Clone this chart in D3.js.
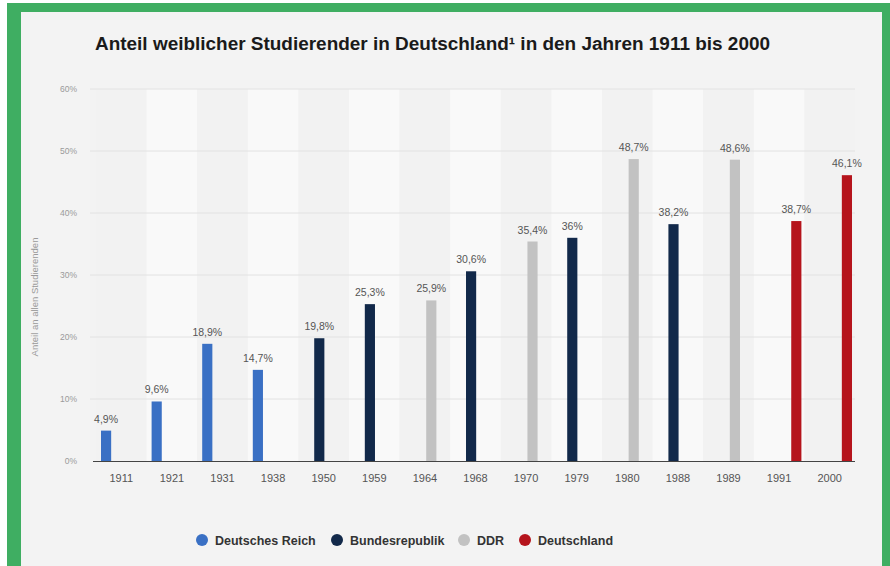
<!DOCTYPE html>
<html><head><meta charset="utf-8">
<script src="https://cdn.jsdelivr.net/npm/d3@7"></script>
<style>html,body{margin:0;padding:0;background:#fff;}svg{display:block;}</style>
</head><body>
<script>
const years = ["1911","1921","1931","1938","1950","1959","1964","1968","1970","1979","1980","1988","1989","1991","2000"];
const seriesNames = ["Deutsches Reich","Bundesrepublik","DDR","Deutschland"];
const seriesColors = ["#3a70c4","#12294a","#c2c2c2","#b5141c"];
const deutschesReich = [4.9,9.6,18.9,14.7,null,null,null,null,null,null,null,null,null,null,null];
const bundesrepublik = [null,null,null,null,19.8,25.3,null,30.6,null,36,null,38.2,null,null,null];
const ddr = [null,null,null,null,null,null,25.9,null,35.4,null,48.7,null,48.6,null,null];
const deutschland = [null,null,null,null,null,null,null,null,null,null,null,null,null,38.7,46.1];
const valueLabels = ["4,9%","9,6%","18,9%","14,7%","19,8%","25,3%","25,9%","30,6%","35,4%","36%","48,7%","38,2%","48,6%","38,7%","46,1%"];
const yTicks = [0,10,20,30,40,50,60];
const titleText = "Anteil weiblicher Studierender in Deutschland¹ in den Jahren 1911 bis 2000";
const yAxisTitle = "Anteil an allen Studierenden";

const W = 890, H = 566;
const svg = d3.select("body").append("svg").attr("width", W).attr("height", H);

// frame
svg.append("rect").attr("x",7).attr("y",3).attr("width",W-7).attr("height",H-3).attr("fill","#3fae62");
svg.append("rect").attr("x",21).attr("y",12).attr("width",861).attr("height",H-12).attr("fill","#f3f3f3");

const plotL = 96, plotR = 855, plotT = 89, plotB = 461;
const x = d3.scaleBand().domain(years).range([plotL, plotR]).padding(0);
const x1 = d3.scaleBand().domain(seriesNames).range([5, x.bandwidth()-3]).paddingInner(0.06);
const y = d3.scaleLinear().domain([0,60]).range([plotB, plotT]);

// stripes
svg.append("g").selectAll("rect").data(years).join("rect")
  .attr("x", d => x(d)).attr("y", plotT).attr("width", x.bandwidth()).attr("height", plotB - plotT)
  .attr("fill", (d,i) => i % 2 === 0 ? "#f2f2f2" : "#f9f9f9");

// gridlines
svg.append("g").selectAll("line").data(yTicks.filter(t => t > 0)).join("line")
  .attr("x1", 90).attr("x2", plotR).attr("y1", d => y(d)).attr("y2", d => y(d))
  .attr("stroke", "#e2e2e2").attr("stroke-width", 1);

// y axis labels
const yAxis = d3.axisLeft(y).tickValues(yTicks).tickFormat(d => d + "%").tickSize(0).tickPadding(0);
const ya = svg.append("g").attr("transform", `translate(77,0)`).call(yAxis);
ya.select(".domain").remove();
ya.selectAll("text").attr("fill","#9a9a9a").attr("font-family","Liberation Sans, Arial, sans-serif").attr("font-size","8.5px");

svg.append("text").attr("transform", `translate(38,297) rotate(-90)`)
  .attr("text-anchor","middle").attr("fill","#9a9a9a")
  .attr("font-family","Liberation Sans, Arial, sans-serif").attr("font-size","9.5px").text(yAxisTitle);

// bars
const allSeries = [deutschesReich, bundesrepublik, ddr, deutschland];
const barData = [];
allSeries.forEach((vals, si) => vals.forEach((v, i) => { if (v !== null) barData.push({year: years[i], s: seriesNames[si], v, color: seriesColors[si], label: valueLabels[i]}); }));

svg.append("g").selectAll("rect").data(barData).join("rect")
  .attr("x", d => x(d.year) + x1(d.s)).attr("width", x1.bandwidth())
  .attr("y", d => y(d.v)).attr("height", d => plotB - y(d.v))
  .attr("fill", d => d.color);

svg.append("g").selectAll("text").data(barData).join("text")
  .attr("x", d => x(d.year) + x1(d.s) + x1.bandwidth()/2).attr("y", d => y(d.v) - 8)
  .attr("text-anchor","middle").attr("fill","#555")
  .attr("font-family","Liberation Sans, Arial, sans-serif").attr("font-size","10.5px").text(d => d.label);

// baseline
svg.append("line").attr("x1", plotL - 3).attr("x2", plotR).attr("y1", plotB + 0.5).attr("y2", plotB + 0.5)
  .attr("stroke","#444").attr("stroke-width",1.2);

// x axis labels
const xAxis = d3.axisBottom(x).tickSize(0).tickPadding(13);
const xa = svg.append("g").attr("transform", `translate(0,${plotB})`).call(xAxis);
xa.select(".domain").remove();
xa.selectAll("text").attr("fill","#555").attr("font-family","Liberation Sans, Arial, sans-serif").attr("font-size","11px");

// title
svg.append("text").attr("x", 95).attr("y", 50).attr("fill","#1a1a1a")
  .attr("font-family","Liberation Sans, Arial, sans-serif").attr("font-weight","bold").attr("font-size","18px")
  .attr("textLength", 675).attr("lengthAdjust","spacingAndGlyphs").text(titleText);

// legend
const legendX = [202, 337, 464, 525];
const lg = svg.append("g").selectAll("g").data(seriesNames).join("g")
  .attr("transform", (d,i) => `translate(${legendX[i]},540)`);
lg.append("circle").attr("r", 6).attr("fill", (d,i) => seriesColors[i]);
lg.append("text").attr("x", 13).attr("y", 4.5).attr("fill","#333")
  .attr("font-family","Liberation Sans, Arial, sans-serif").attr("font-weight","bold").attr("font-size","12.5px").text(d => d);
</script>
</body></html>
